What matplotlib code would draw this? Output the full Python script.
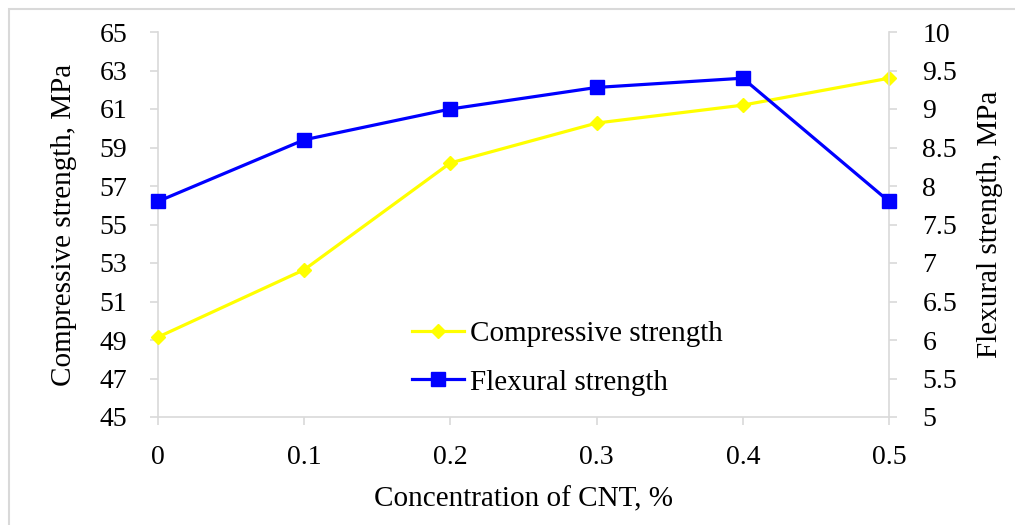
import matplotlib.pyplot as plt
from matplotlib.patches import Rectangle

cnt = [0, 0.1, 0.2, 0.3, 0.4, 0.5]
compressive = [49.15, 52.65, 58.2, 60.27, 61.2, 62.6]
flexural = [7.8, 8.6, 9.0, 9.28, 9.4, 7.8]

plt.rcParams['font.family'] = ['Liberation Serif', 'DejaVu Serif']
plt.rcParams['font.size'] = 20

fig = plt.figure(figsize=(10.15, 5.25), dpi=100)
ax = fig.add_axes([158 / 1015, 1 - 417 / 525, (889 - 158) / 1015, (417 - 32) / 525])
ax2 = ax.twinx()

# light frame round the picture (left and top edges only show)
fig.patches.append(Rectangle((9 / 1015, -0.1), 1.2, 1 - 9 / 525 + 0.1,
                             transform=fig.transFigure, fill=False,
                             edgecolor='#d9d9d9', linewidth=1.5))

l1, = ax.plot(cnt, compressive, color='#ffff00', lw=2.3, marker='D', ms=7,
              label='Compressive strength', clip_on=False, zorder=3)
l2, = ax2.plot(cnt, flexural, color='#0000ff', lw=2.3, marker='s', ms=10,
               label='Flexural strength', clip_on=False, zorder=3)

ax.set_xlim(0, 0.5)
ax.set_ylim(45, 65)
ax.set_yticks(range(45, 66, 2))
ax.set_xticks(cnt)
ax.set_xticklabels(['0', '0.1', '0.2', '0.3', '0.4', '0.5'])
ax2.set_ylim(5, 10)
ax2.set_yticks([5, 5.5, 6, 6.5, 7, 7.5, 8, 8.5, 9, 9.5, 10])
ax2.set_yticklabels(['5', '5.5', '6', '6.5', '7', '7.5', '8', '8.5', '9', '9.5', '10'])

for a in (ax, ax2):
    a.spines['top'].set_visible(False)
    for s in ('left', 'right', 'bottom'):
        a.spines[s].set_color('#d9d9d9')
        a.spines[s].set_linewidth(1.2)
    a.tick_params(color='#d9d9d9', length=6, width=1.2)
ax.tick_params(axis='x', pad=14)
ax.tick_params(axis='y', pad=16)
ax2.tick_params(axis='y', pad=18)
ax.spines['right'].set_visible(False)
ax2.spines['left'].set_visible(False)
ax2.spines['bottom'].set_visible(False)

ax.set_xlabel('Concentration of CNT, %', fontsize=21, labelpad=12)
ax.set_ylabel('Compressive strength, MPa', fontsize=21, labelpad=16)
ax2.set_ylabel('Flexural strength, MPa', fontsize=21, labelpad=14)

ax.legend(handles=[l1, l2], loc='upper left', bbox_to_anchor=(0.331, 0.28),
          frameon=False, fontsize=21, handlelength=1.8, handletextpad=0.2,
          labelspacing=0.75, borderaxespad=0)

fig.savefig('out.png', dpi=100)
